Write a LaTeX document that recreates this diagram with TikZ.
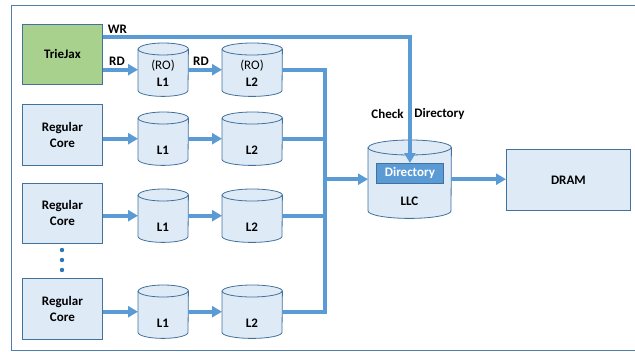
\documentclass[tikz,border=0pt]{standalone}
\usepackage{fontspec}
\setmainfont{Carlito}
\usetikzlibrary{arrows.meta}
\definecolor{lineblue}{HTML}{5B9BD5}
\definecolor{edgeblue}{HTML}{41719C}
\definecolor{fillblue}{HTML}{DEEBF7}
\definecolor{tjgreen}{HTML}{A9D18E}
\definecolor{dotblue}{HTML}{2E75B6}
\definecolor{framecol}{HTML}{4F7FAA}
\tikzset{
  box/.style={draw=edgeblue, fill=fillblue, line width=0.8pt, inner sep=0pt,
    font=\fontsize{13}{16}\selectfont\bfseries, align=center, anchor=north west},
  txt/.style={font=\fontsize{13}{16}\selectfont\bfseries, inner sep=0pt},
  rtxt/.style={font=\fontsize{13}{16}\selectfont, inner sep=0pt},
  conn/.style={lineblue, line width=4pt, line join=miter},
  arr/.style={conn, -{Triangle[length=10pt,width=11pt]}},
  cylborder/.style={draw=edgeblue, fill=fillblue, line width=0.8pt},
}
% name, x, y (top), width, height, ellipse half height
\newcommand\drawcyl[6]{%
  \node[inner sep=0pt, minimum width=#4pt, minimum height=#5pt, anchor=north west] (#1) at (#2,#3) {};
  \filldraw[cylborder] ([yshift=-#6pt]#1.north west) -- ([yshift=#6pt]#1.south west)
    arc[start angle=180, end angle=360, x radius=#4/2*1pt, y radius=#6pt]
    -- ([yshift=-#6pt]#1.north east)
    arc[start angle=0, end angle=180, x radius=#4/2*1pt, y radius=#6pt] -- cycle;
  \draw[edgeblue, line width=0.8pt] ([yshift=-#6pt]#1.north west)
    arc[start angle=180, end angle=360, x radius=#4/2*1pt, y radius=#6pt];
}
\begin{document}
\begin{tikzpicture}[x=1pt, y=-1pt]
\useasboundingbox (0,0) rectangle (635,351);
% frame
\draw[framecol, line width=1pt] (645,5) -- (11.5,5) -- (11.5,350) -- (645,350);

% cores
\node[box, fill=tjgreen, minimum width=80pt, minimum height=60pt] (tj) at (22,24) {TrieJax};
\node[box, minimum width=80pt, minimum height=61pt] (c1) at (22,104) {Regular\\Core};
\node[box, minimum width=80pt, minimum height=60pt] (c2) at (22,183) {Regular\\Core};
\node[box, minimum width=80pt, minimum height=61pt] (c3) at (22,278) {Regular\\Core};

% dots
\fill[dotblue] (62,250) circle[radius=2.2pt];
\fill[dotblue] (62,260) circle[radius=2.2pt];
\fill[dotblue] (62,270) circle[radius=2.2pt];

% caches
\drawcyl{L1a}{138}{43}{50}{53}{6}
\drawcyl{L2a}{222}{43}{60}{53}{6}
\drawcyl{L1b}{138}{112}{50}{53}{6}
\drawcyl{L2b}{222}{112}{60}{53}{6}
\drawcyl{L1c}{138}{189}{50}{53}{6}
\drawcyl{L2c}{222}{189}{60}{53}{6}
\drawcyl{L1d}{138}{285}{50}{53}{6}
\drawcyl{L2d}{222}{285}{60}{53}{6}

\node[rtxt] (roa) at (163,66) {(RO)};
\node[txt] (l1at) at (163,82) {L1};
\node[rtxt] (rob) at (252,66) {(RO)};
\node[txt] (l2at) at (252,82) {L2};
\node[txt] (l1bt) at (163,150) {L1};
\node[txt] (l2bt) at (252,150) {L2};
\node[txt] (l1ct) at (163,227) {L1};
\node[txt] (l2ct) at (252,227) {L2};
\node[txt] (l1dt) at (163,323) {L1};
\node[txt] (l2dt) at (252,323) {L2};

% LLC
\drawcyl{llc}{368}{140}{83}{78}{7.5}
\node[draw=edgeblue, fill=lineblue, line width=0.8pt, text=white, inner sep=0pt,
  minimum width=67pt, minimum height=20pt, anchor=north west,
  font=\fontsize{13}{16}\selectfont\bfseries] (dir) at (376,163) {Directory};
\node[txt] (llct) at (409.5,201) {LLC};

% DRAM
\node[box, minimum width=124pt, minimum height=61pt] (dram) at (506,149) {DRAM};

% connectors
\coordinate (bus) at (325,0);
\coordinate (wry) at (0,37);
\draw[arr] (L1a.west -| tj.east) -- (L1a.west);
\draw[arr] (L1a.east) -- (L2a.west);
\draw[arr] (L1b.west -| c1.east) -- (L1b.west);
\draw[arr] (L1b.east) -- (L2b.west);
\draw[arr] (L1c.west -| c2.east) -- (L1c.west);
\draw[arr] (L1c.east) -- (L2c.west);
\draw[arr] (L1d.west -| c3.east) -- (L1d.west);
\draw[arr] (L1d.east) -- (L2d.west);

\draw[conn] (L2a.east) -- (L2a.east -| bus) -- (L2d.east -| bus) -- (L2d.east);
\draw[conn] (L2b.east) -- (L2b.east -| bus);
\draw[conn] (L2c.east) -- (L2c.east -| bus);
\draw[arr] (llc.west -| bus) -- (llc.west);
\draw[arr] (llc.east) -- (llc.east -| dram.west);

\draw[arr] (wry -| tj.east) -- (wry -| dir.north) -- (dir.north);

% labels
\node[txt] (wr) at (117.5,29) {WR};
\node[txt] (rd1) at (117,61) {RD};
\node[txt] (rd2) at (201,61) {RD};
\node[txt] (chk) at (387.5,114) {Check};
\node[txt] (chkd) at (439.5,114) {Directory};
\end{tikzpicture}
\end{document}
